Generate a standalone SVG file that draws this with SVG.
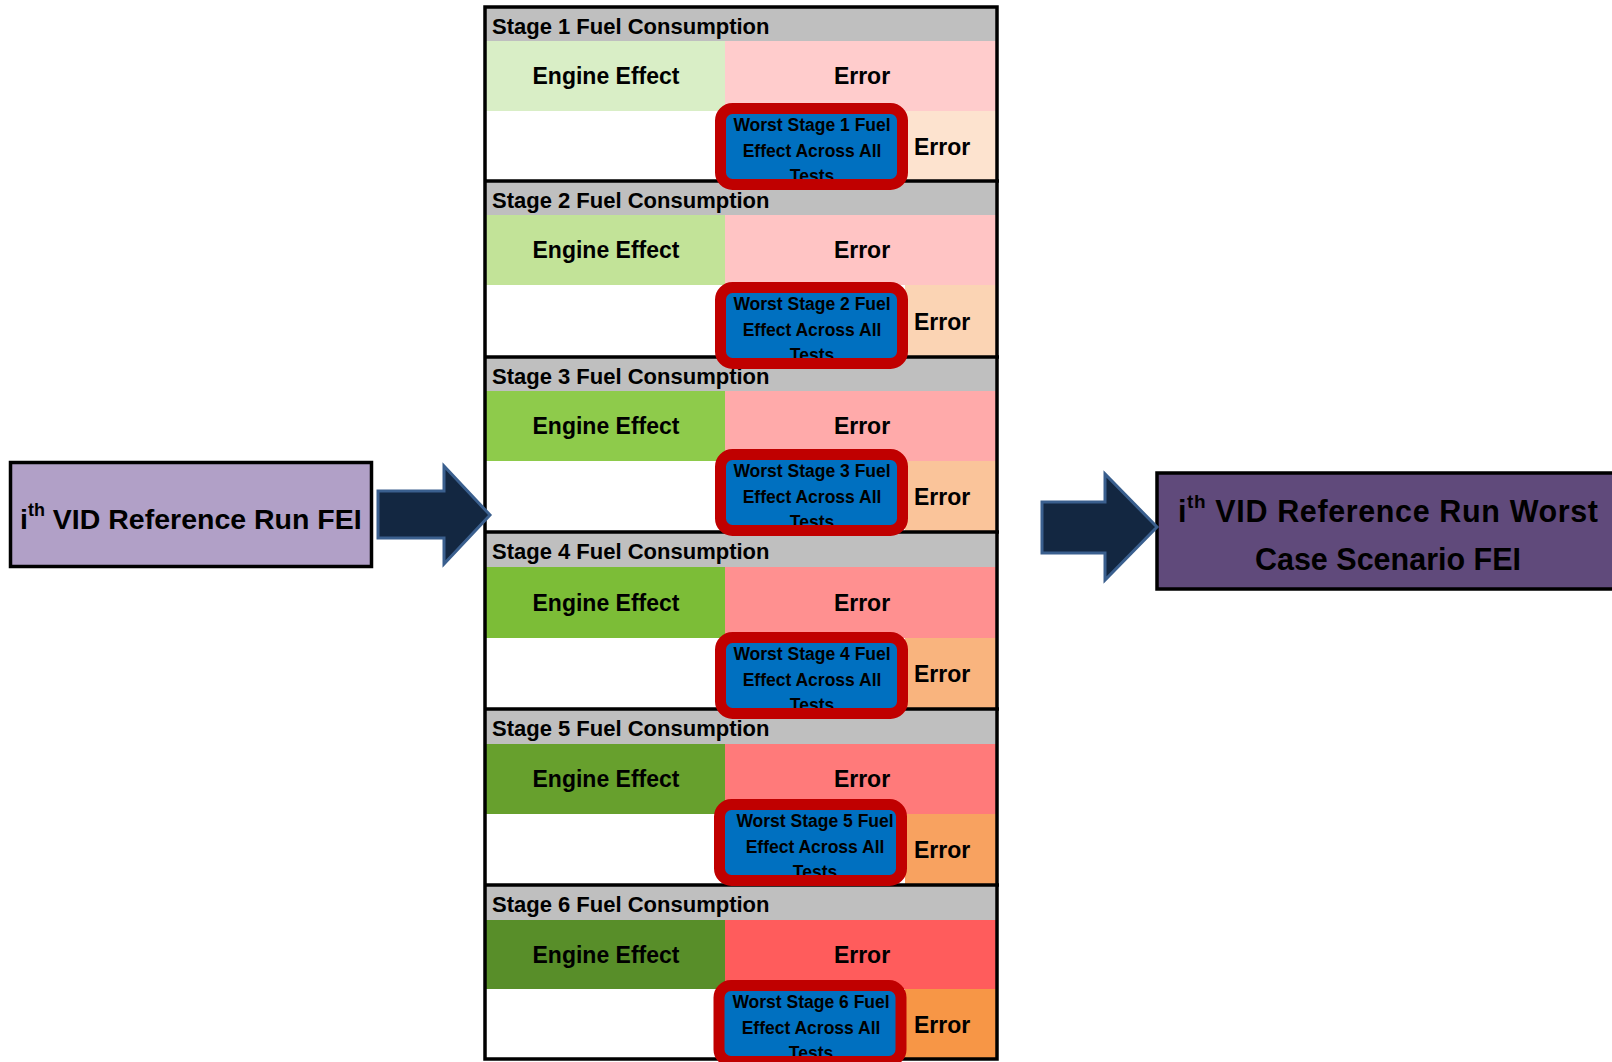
<svg xmlns="http://www.w3.org/2000/svg" width="1612" height="1062" viewBox="0 0 1612 1062">
<style>
  text { font-family: "Liberation Sans", Arial, sans-serif; font-weight: bold; fill: #000; }
  .hdr { font-size: 22px; }
  .cell { font-size: 23px; text-anchor: middle; }
  .err2 { font-size: 23px; }
  .wtxt { font-size: 17.5px; text-anchor: middle; }
  .gray { fill: #BFBFBF; }
  .white { fill: #FFFFFF; }
  .blue { fill: #0070C0; stroke: none; }
  .redframe { fill: none; stroke: #C00000; stroke-width: 11; }
  .grid { stroke: #000; stroke-width: 3.5; fill: none; }
  .arrow { fill: #132741; stroke: #3A5F8E; stroke-width: 3; stroke-linejoin: miter; }
  .node { stroke: #000; stroke-width: 3.5; }
  .big { font-size: 28.5px; }
  .big2 { font-size: 30.5px; text-anchor: middle; }
</style>

<!-- Left node -->
<g id="node-ref-run">
  <rect class="node" x="10.5" y="462.5" width="361" height="104" fill="#B1A0C7"/>
  <text class="big" x="20" y="529">i<tspan font-size="18" dy="-13">th</tspan><tspan dy="13"> VID Reference Run FEI</tspan></text>
</g>

<!-- Right node -->
<g id="node-worst-case">
  <rect class="node" x="1157" y="473" width="470" height="116" fill="#604A7B"/>
  <text class="big2" x="1388" y="522" textLength="420">i<tspan font-size="19" dy="-14">th</tspan><tspan dy="14"> VID Reference Run Worst</tspan></text>
  <text class="big2" x="1388" y="570">Case Scenario FEI</text>
</g>

<!-- Stage table -->
<g id="stage1">
  <rect class="gray" x="485" y="7" width="512" height="34"/>
  <rect fill="#D9EEC6" x="485" y="41" width="240" height="70"/>
  <rect fill="#FFCCCC" x="725" y="41" width="272" height="70"/>
  <rect class="white" x="485" y="111" width="420" height="70"/>
  <rect fill="#FDE3CF" x="905" y="111" width="92" height="70"/>
  <text class="hdr" x="492" y="33.5">Stage 1 Fuel Consumption</text>
  <text class="cell" x="606" y="84">Engine Effect</text>
  <text class="cell" x="862" y="84">Error</text>
  <text class="err2" x="914" y="154.5">Error</text>
</g>
<g id="stage2">
  <rect class="gray" x="485" y="181" width="512" height="34"/>
  <rect fill="#C2E398" x="485" y="215" width="240" height="70"/>
  <rect fill="#FFC4C4" x="725" y="215" width="272" height="70"/>
  <rect class="white" x="485" y="285" width="420" height="72"/>
  <rect fill="#FBD4B4" x="905" y="285" width="92" height="72"/>
  <text class="hdr" x="492" y="207.5">Stage 2 Fuel Consumption</text>
  <text class="cell" x="606" y="258">Engine Effect</text>
  <text class="cell" x="862" y="258">Error</text>
  <text class="err2" x="914" y="329.5">Error</text>
</g>
<g id="stage3">
  <rect class="gray" x="485" y="357" width="512" height="34"/>
  <rect fill="#8ECB4B" x="485" y="391" width="240" height="70"/>
  <rect fill="#FFAAAA" x="725" y="391" width="272" height="70"/>
  <rect class="white" x="485" y="461" width="420" height="71"/>
  <rect fill="#FAC49A" x="905" y="461" width="92" height="71"/>
  <text class="hdr" x="492" y="383.5">Stage 3 Fuel Consumption</text>
  <text class="cell" x="606" y="434">Engine Effect</text>
  <text class="cell" x="862" y="434">Error</text>
  <text class="err2" x="914" y="505">Error</text>
</g>
<g id="stage4">
  <rect class="gray" x="485" y="532" width="512" height="35"/>
  <rect fill="#7CBD37" x="485" y="567" width="240" height="71"/>
  <rect fill="#FF9090" x="725" y="567" width="272" height="71"/>
  <rect class="white" x="485" y="638" width="420" height="71"/>
  <rect fill="#F9B47E" x="905" y="638" width="92" height="71"/>
  <text class="hdr" x="492" y="559">Stage 4 Fuel Consumption</text>
  <text class="cell" x="606" y="610.5">Engine Effect</text>
  <text class="cell" x="862" y="610.5">Error</text>
  <text class="err2" x="914" y="682">Error</text>
</g>
<g id="stage5">
  <rect class="gray" x="485" y="709" width="512" height="35"/>
  <rect fill="#67A02D" x="485" y="744" width="240" height="70"/>
  <rect fill="#FF7A7A" x="725" y="744" width="272" height="70"/>
  <rect class="white" x="485" y="814" width="420" height="71"/>
  <rect fill="#F8A260" x="905" y="814" width="92" height="71"/>
  <text class="hdr" x="492" y="736">Stage 5 Fuel Consumption</text>
  <text class="cell" x="606" y="787">Engine Effect</text>
  <text class="cell" x="862" y="787">Error</text>
  <text class="err2" x="914" y="858">Error</text>
</g>
<g id="stage6">
  <rect class="gray" x="485" y="885" width="512" height="35"/>
  <rect fill="#588E29" x="485" y="920" width="240" height="69"/>
  <rect fill="#FF5C5C" x="725" y="920" width="272" height="69"/>
  <rect class="white" x="485" y="989" width="420" height="70"/>
  <rect fill="#F79646" x="905" y="989" width="92" height="70"/>
  <text class="hdr" x="492" y="912">Stage 6 Fuel Consumption</text>
  <text class="cell" x="606" y="962.5">Engine Effect</text>
  <text class="cell" x="862" y="962.5">Error</text>
  <text class="err2" x="914" y="1032.5">Error</text>
</g>

<g id="table-grid">
  <rect class="grid" x="485" y="7" width="512" height="1052"/>
  <line class="grid" x1="485" y1="181" x2="999" y2="181"/>
  <line class="grid" x1="485" y1="357" x2="999" y2="357"/>
  <line class="grid" x1="485" y1="532" x2="999" y2="532"/>
  <line class="grid" x1="485" y1="709" x2="999" y2="709"/>
  <line class="grid" x1="485" y1="885" x2="999" y2="885"/>
</g>

<!-- Worst boxes -->
<g id="worst1">
  <rect class="blue" x="720.5" y="108.5" width="182" height="76" rx="12"/>
  <text class="wtxt" x="812" y="131">Worst Stage 1 Fuel</text>
  <text class="wtxt" x="812" y="156.5">Effect Across All</text>
  <text class="wtxt" x="812" y="182">Tests</text>
  <rect class="redframe" x="720.5" y="108.5" width="182" height="76" rx="12"/>
</g>
<g id="worst2">
  <rect class="blue" x="720.5" y="287.5" width="182" height="76" rx="12"/>
  <text class="wtxt" x="812" y="310">Worst Stage 2 Fuel</text>
  <text class="wtxt" x="812" y="335.5">Effect Across All</text>
  <text class="wtxt" x="812" y="361">Tests</text>
  <rect class="redframe" x="720.5" y="287.5" width="182" height="76" rx="12"/>
</g>
<g id="worst3">
  <rect class="blue" x="720.5" y="454.5" width="182" height="76" rx="12"/>
  <text class="wtxt" x="812" y="477">Worst Stage 3 Fuel</text>
  <text class="wtxt" x="812" y="502.5">Effect Across All</text>
  <text class="wtxt" x="812" y="528">Tests</text>
  <rect class="redframe" x="720.5" y="454.5" width="182" height="76" rx="12"/>
</g>
<g id="worst4">
  <rect class="blue" x="720.5" y="637.5" width="182" height="76" rx="12"/>
  <text class="wtxt" x="812" y="660">Worst Stage 4 Fuel</text>
  <text class="wtxt" x="812" y="685.5">Effect Across All</text>
  <text class="wtxt" x="812" y="711">Tests</text>
  <rect class="redframe" x="720.5" y="637.5" width="182" height="76" rx="12"/>
</g>
<g id="worst5">
  <rect class="blue" x="719.5" y="804.5" width="182" height="76" rx="12"/>
  <text class="wtxt" x="815" y="827">Worst Stage 5 Fuel</text>
  <text class="wtxt" x="815" y="852.5">Effect Across All</text>
  <text class="wtxt" x="815" y="878">Tests</text>
  <rect class="redframe" x="719.5" y="804.5" width="182" height="76" rx="12"/>
</g>
<g id="worst6">
  <rect class="blue" x="719" y="985.5" width="182" height="76" rx="12"/>
  <text class="wtxt" x="811" y="1008">Worst Stage 6 Fuel</text>
  <text class="wtxt" x="811" y="1033.5">Effect Across All</text>
  <text class="wtxt" x="811" y="1059">Tests</text>
  <rect class="redframe" x="719" y="985.5" width="182" height="76" rx="12"/>
</g>

<!-- Connectors (block arrows) -->
<g id="connectors">
  <polygon class="arrow" points="378,491 444,491 444,466 490,515 444,564 444,538 378,538"/>
  <polygon class="arrow" points="1042,502 1105,502 1105,474 1157,527 1105,580 1105,553 1042,553"/>
</g>
</svg>
